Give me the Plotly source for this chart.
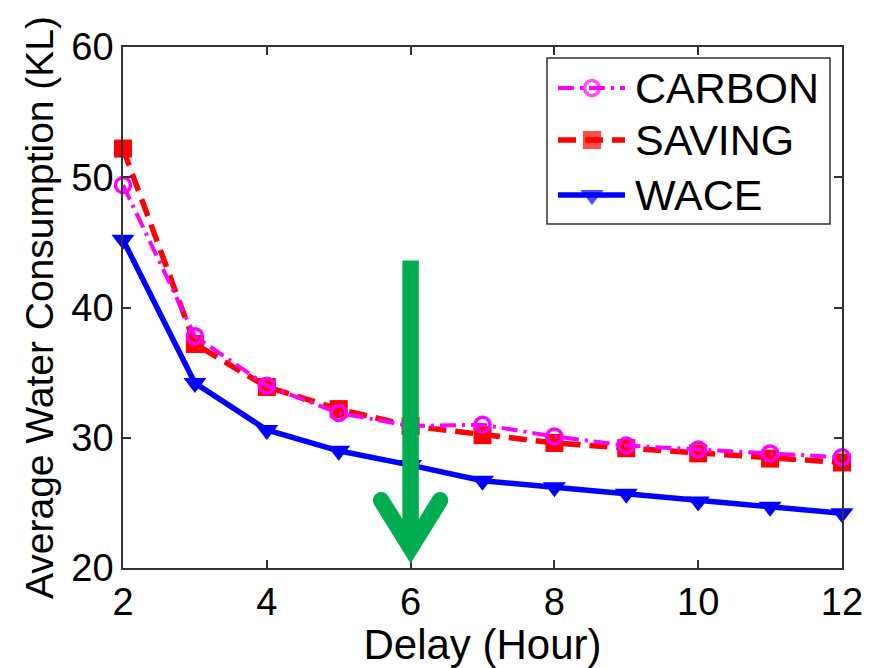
import plotly.graph_objects as go

# Average water consumption (KL) versus allowed delay (hours)
delay_hours = [2, 3, 4, 5, 6, 7, 8, 9, 10, 11, 12]
carbon = [49.4, 37.8, 34.0, 31.9, 30.9, 31.0, 30.1, 29.4, 29.1, 28.8, 28.5]
saving = [52.2, 37.2, 33.9, 32.2, 30.9, 30.2, 29.6, 29.2, 28.8, 28.4, 28.1]
wace = [45.2, 34.2, 30.6, 29.0, 27.9, 26.7, 26.2, 25.7, 25.1, 24.7, 24.2]

x_ticks = [2, 4, 6, 8, 10, 12]
y_ticks = [20, 30, 40, 50, 60]

# Highlight arrow (data units)
arrow_x = 6
arrow_top = 43.6
arrow_vertex = 21.55
arrow_arm_y = 25.2
arrow_arm_dx = 0.41
ARROW_W = 16.5

FONT = "Arial, Liberation Sans, sans-serif"
GREEN = "#00AC50"

# Figure geometry (pixels)
W, H = 879, 668
ML, MR, MT, MB = 123, 37, 47, 100
PW, PH = W - ML - MR, H - MT - MB


def px_x(p):
    return (p - ML) / PW


def px_y(p):
    return (H - MB - p) / PH


series = [
    dict(name="CARBON", y=carbon, color="#FF00FF", dash="16px,6px,3px,6px",
         width=4, symbol="circle-open", size=15, mline=3.5),
    dict(name="SAVING", y=saving, color="#FF0000", dash="18px,9px",
         width=5.5, symbol="square", size=18, mline=0),
    dict(name="WACE", y=wace, color="#0000FF", dash="solid",
         width=5.5, symbol="triangle-down", size=20, mline=0),
]

fig = go.Figure()

# draw WACE first so the dashed curves sit above it
for s in reversed(series):
    fig.add_trace(go.Scatter(
        x=delay_hours, y=s["y"], mode="lines+markers", name=s["name"],
        line=dict(color=s["color"], width=s["width"], dash=s["dash"]),
        marker=dict(symbol=s["symbol"], size=s["size"], color=s["color"],
                    line=dict(color=s["color"], width=s["mline"])),
        cliponaxis=False, showlegend=False,
    ))

# green downward arrow: round caps on the arm ends, shaft and head as shapes
fig.add_trace(go.Scatter(
    x=[arrow_x - arrow_arm_dx, arrow_x + arrow_arm_dx],
    y=[arrow_arm_y, arrow_arm_y], mode="markers",
    marker=dict(size=ARROW_W, color=GREEN, symbol="circle", line=dict(width=0)),
    cliponaxis=False, showlegend=False, hoverinfo="skip",
))
fig.add_shape(
    type="line", xref="x", yref="y",
    x0=arrow_x, x1=arrow_x, y0=arrow_top, y1=arrow_vertex + 1.0,
    line=dict(color=GREEN, width=ARROW_W),
)
fig.add_shape(
    type="path", xref="x", yref="y",
    path=(f"M {arrow_x - arrow_arm_dx},{arrow_arm_y} "
          f"L {arrow_x},{arrow_vertex} "
          f"L {arrow_x + arrow_arm_dx},{arrow_arm_y}"),
    line=dict(color=GREEN, width=ARROW_W),
)

# legend drawn on an overlay axis spanning the plot area
leg_rows = [88, 140, 195]
leg_x0, leg_x1, leg_xm = 558, 625, 592
for s, row in zip(series, leg_rows):
    fig.add_trace(go.Scatter(
        x=[px_x(leg_x0), px_x(leg_xm), px_x(leg_x1)],
        y=[px_y(row)] * 3, mode="lines+markers", xaxis="x2", yaxis="y2",
        line=dict(color=s["color"], width=s["width"], dash=s["dash"]),
        marker=dict(symbol=s["symbol"], size=[0, s["size"], 0], color=s["color"],
                    line=dict(color=s["color"], width=s["mline"])),
        showlegend=False, hoverinfo="skip",
    ))
    fig.add_annotation(
        x=px_x(633), y=px_y(row), xref="paper", yref="paper",
        text=s["name"], showarrow=False, xanchor="left", yanchor="middle",
        font=dict(family=FONT, size=43, color="black"),
    )

fig.add_shape(
    type="rect", xref="paper", yref="paper",
    x0=px_x(547), x1=px_x(830), y0=px_y(224), y1=px_y(58),
    line=dict(color="#333333", width=1.5), fillcolor="white", layer="below",
)

axis_common = dict(
    showline=True, linecolor="#333333", linewidth=1.5, mirror="ticks",
    ticks="inside", ticklen=8, tickwidth=1.5, tickcolor="#333333",
    showgrid=False, zeroline=False,
    tickfont=dict(family=FONT, size=38, color="black"),
)

fig.update_layout(
    width=W, height=H,
    margin=dict(l=ML, r=MR, t=MT, b=MB),
    paper_bgcolor="white", plot_bgcolor="white",
    font=dict(family=FONT, color="black"),
    xaxis=dict(range=[2, 12], tickvals=x_ticks, ticktext=[str(v) for v in x_ticks],
               title=dict(text="Delay (Hour)", font=dict(family=FONT, size=42),
                          standoff=4),
               **axis_common),
    yaxis=dict(range=[20, 60], tickvals=y_ticks, ticktext=[str(v) for v in y_ticks],
               title=dict(text="Average Water Consumption (KL)",
                          font=dict(family=FONT, size=39), standoff=6),
               **axis_common),
    xaxis2=dict(overlaying="x", range=[0, 1], visible=False, fixedrange=True),
    yaxis2=dict(overlaying="y", range=[0, 1], visible=False, fixedrange=True),
    showlegend=False,
)

fig.write_html("out.html")
